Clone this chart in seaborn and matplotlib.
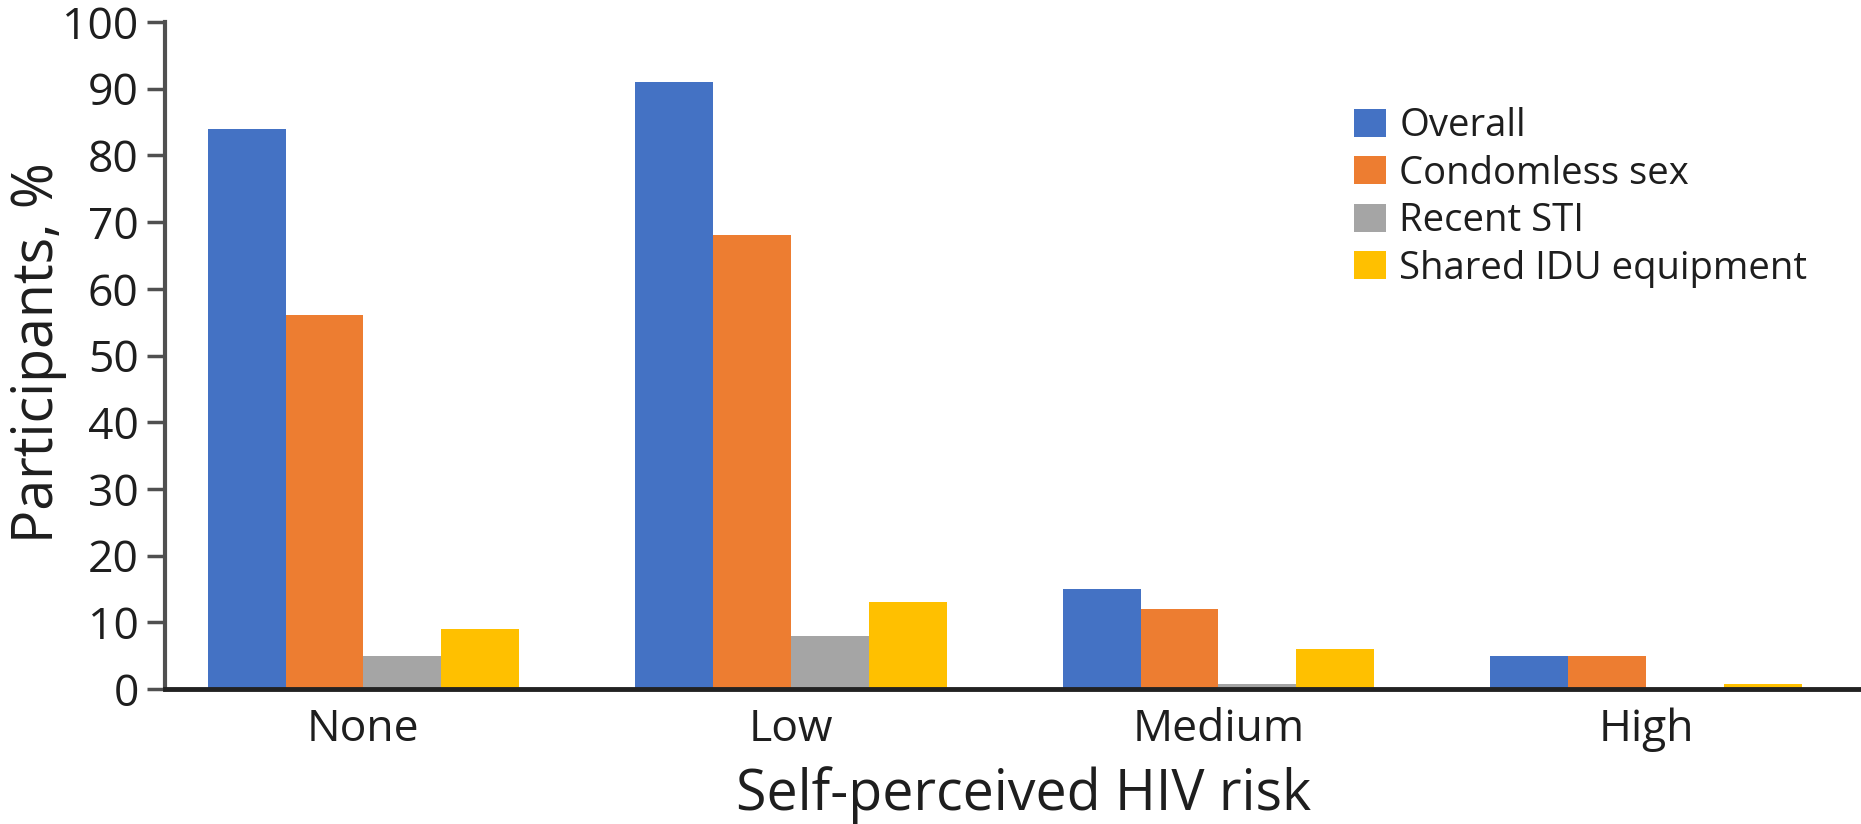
import numpy as np
import pandas as pd
import seaborn as sns
import matplotlib.pyplot as plt

# values
categories = ["None", "Low", "Medium", "High"]
groups = ["Overall", "Condomless sex", "Recent STI", "Shared IDU equipment"]
overall = [84, 91, 15, 5]
condomless = [56, 68, 12, 5]
recent_sti = [5, 8, 0.8, 0]
shared_idu = [9, 13, 6, 0.8]
y_ticks = [0, 10, 20, 30, 40, 50, 60, 70, 80, 90, 100]

colors = ["#4472C4", "#ED7D31", "#A5A5A5", "#FFC000"]

rows = []
for g, vals in zip(groups, [overall, condomless, recent_sti, shared_idu]):
    for c, v in zip(categories, vals):
        rows.append({"risk": c, "group": g, "pct": v})
df = pd.DataFrame(rows)

sns.set_theme(style="white")
plt.rcParams["font.family"] = ["Open Sans", "DejaVu Sans"]
text_col = "#1e1e1e"

fig = plt.figure(figsize=(18.61, 8.24), dpi=100)
ax = fig.add_axes([0.0887, 0.1638, 0.9113, 0.8095])

sns.barplot(data=df, x="risk", y="pct", hue="group", order=categories,
            hue_order=groups, palette=colors, width=0.728, gap=0,
            saturation=1, linewidth=0, ax=ax)

ax.set_xlim(-0.464, 3.503)
ax.set_ylim(0, 100)
ax.set_yticks(y_ticks)

for s in ["top", "right"]:
    ax.spines[s].set_visible(False)
ax.spines["left"].set_color("#505050")
ax.spines["left"].set_linewidth(3)
ax.spines["bottom"].set_color("#222222")
ax.spines["bottom"].set_linewidth(3.5)

ax.tick_params(axis="y", length=13, width=2.5, color="#505050", pad=6,
               labelsize=32, labelcolor=text_col, left=True)
ax.tick_params(axis="x", length=0, pad=13, labelsize=32, labelcolor=text_col)

ax.set_xlabel("Self-perceived HIV risk", fontsize=40, color=text_col)
ax.set_ylabel("Participants, %", fontsize=40, color=text_col)
ax.xaxis.set_label_coords(0.5065, -0.115)
ax.yaxis.set_label_coords(-0.058, 0.505)

handles, labels = ax.get_legend_handles_labels()
ax.legend(handles, labels, loc="upper left", bbox_to_anchor=(0.7276, 0.870),
          bbox_transform=fig.transFigure, frameon=False, fontsize=27.5,
          borderpad=0, borderaxespad=0, handlelength=0.83, handleheight=0.75,
          handletextpad=0.35, labelspacing=0.25, labelcolor=text_col)

fig.savefig("out.png", dpi=100)
